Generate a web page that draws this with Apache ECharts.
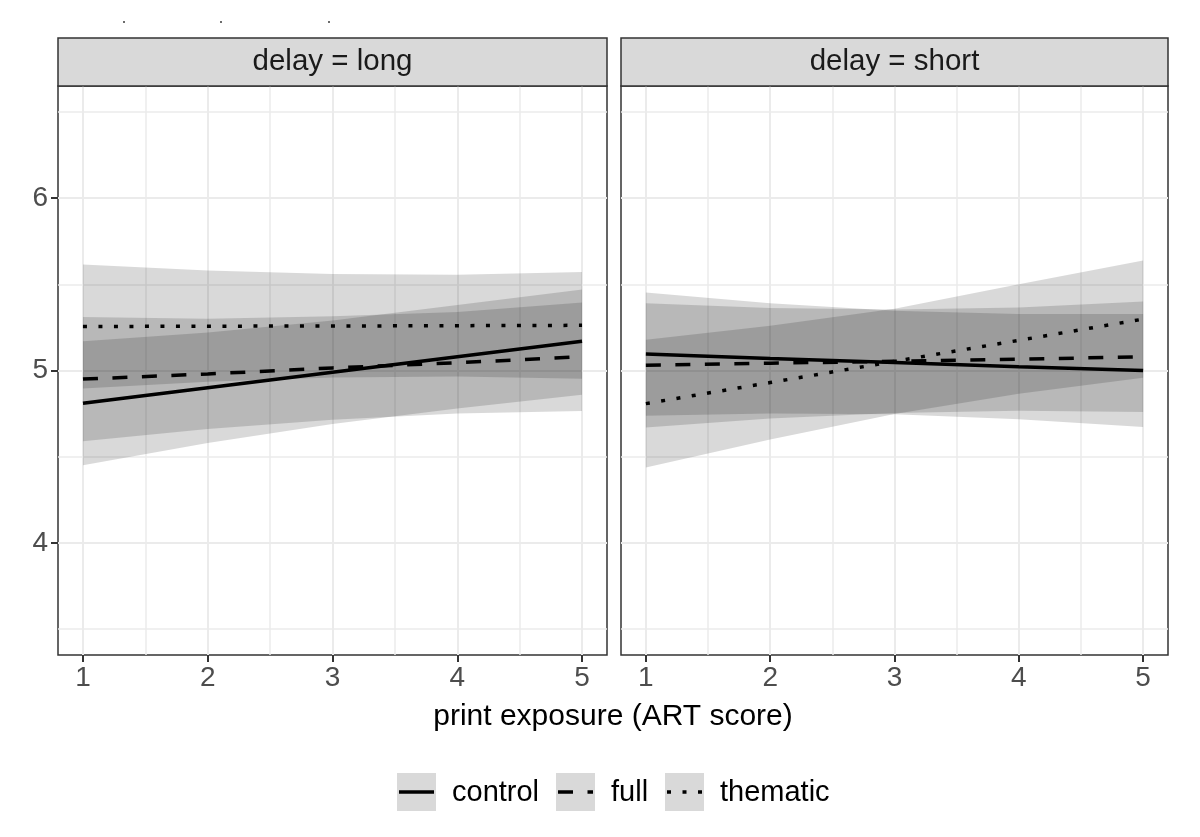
<!DOCTYPE html>
<html>
<head>
<meta charset="utf-8">
<title>print exposure by delay</title>
<script src="https://cdn.jsdelivr.net/npm/echarts@6/dist/echarts.min.js"></script>
<style>
  html, body { margin: 0; padding: 0; background: #fff; }
  #main { width: 1200px; height: 837px; }
</style>
</head>
<body>
<div id="main"></div>
<script>
// x positions (ART score) and axis breaks
var xList = [1, 2, 3, 4, 5];
var xTicks = [1, 2, 3, 4, 5];
var xMinor = [1.5, 2.5, 3.5, 4.5];
var yTicks = [4, 5, 6];
var yMinor = [3.5, 4.5, 5.5, 6.5];
var panels = ['delay = long', 'delay = short'];
var groups = ['control', 'full', 'thematic'];

// delay = long
var longControl    = [4.81, 4.90, 4.99, 5.08, 5.17];
var longControlLo  = [4.45, 4.58, 4.69, 4.78, 4.86];
var longControlHi  = [5.17, 5.22, 5.29, 5.38, 5.47];
var longFull       = [4.95, 4.98, 5.015, 5.045, 5.08];
var longFullLo     = [4.59, 4.66, 4.715, 4.75, 4.765];
var longFullHi     = [5.31, 5.30, 5.315, 5.34, 5.395];
var longThematic   = [5.255, 5.257, 5.258, 5.26, 5.262];
var longThematicLo = [4.895, 4.935, 4.96, 4.965, 4.952];
var longThematicHi = [5.615, 5.58, 5.56, 5.556, 5.571];

// delay = short
var shortControl    = [5.095, 5.07, 5.046, 5.022, 5.0];
var shortControlLo  = [4.738, 4.75, 4.746, 4.717, 4.673];
var shortControlHi  = [5.452, 5.39, 5.346, 5.327, 5.327];
var shortFull       = [5.03, 5.042, 5.054, 5.066, 5.079];
var shortFullLo     = [4.67, 4.722, 4.754, 4.766, 4.76];
var shortFullHi     = [5.39, 5.362, 5.354, 5.366, 5.40];
var shortThematic   = [4.808, 4.93, 5.053, 5.175, 5.298];
var shortThematicLo = [4.438, 4.60, 4.748, 4.865, 4.958];
var shortThematicHi = [5.178, 5.26, 5.358, 5.50, 5.638];

var lineTypes = ['solid', [15, 14.5], [4, 11.5]];
var FONT = '"Liberation Sans", Arial, sans-serif';

var panelData = [
  [[longControl, longControlLo, longControlHi], [longFull, longFullLo, longFullHi], [longThematic, longThematicLo, longThematicHi]],
  [[shortControl, shortControlLo, shortControlHi], [shortFull, shortFullLo, shortFullHi], [shortThematic, shortThematicLo, shortThematicHi]]
];

// panel boxes (px)
var gridBox = [
  { left: 58, top: 86, width: 549, height: 569 },
  { left: 621, top: 86, width: 547, height: 569 }
];

function pairs(ys) {
  return xList.map(function (x, i) { return [x, ys[i]]; });
}

// polygon for a ribbon, upper edge then lower edge backwards
function ribbon(lo, hi) {
  return function (params, api) {
    var pts = [];
    for (var i = 0; i < xList.length; i++) pts.push(api.coord([xList[i], hi[i]]));
    for (var j = xList.length - 1; j >= 0; j--) pts.push(api.coord([xList[j], lo[j]]));
    return {
      type: 'polygon',
      shape: { points: pts },
      style: { fill: 'rgba(0,0,0,0.15)' }
    };
  };
}

var chart = echarts.init(document.getElementById('main'), null, { renderer: 'canvas' });

var series = [];
var xAxes = [];
var yAxes = [];
var grids = [];
var graphics = [];

for (var p = 0; p < 2; p++) {
  grids.push({
    left: gridBox[p].left, top: gridBox[p].top, width: gridBox[p].width, height: gridBox[p].height,
    show: true, backgroundColor: '#fff', borderColor: '#333', borderWidth: 1.5
  });
  xAxes.push({
    gridIndex: p, type: 'value', min: 0.8, max: 5.2,
    axisLine: { show: false },
    splitLine: { show: false },
    axisTick: { show: true, customValues: xTicks, length: 7, lineStyle: { color: '#333', width: 2 } },
    axisLabel: { customValues: xTicks, margin: 9, color: '#4d4d4d', fontSize: 28, fontFamily: FONT }
  });
  yAxes.push({
    gridIndex: p, type: 'value', min: 3.35, max: 6.65,
    axisLine: { show: false },
    splitLine: { show: false },
    axisTick: { show: p === 0, customValues: yTicks, length: 7, lineStyle: { color: '#333', width: 2 } },
    axisLabel: { show: p === 0, customValues: yTicks, margin: 10, color: '#4d4d4d', fontSize: 28, fontFamily: FONT }
  });

  // grid lines (major + minor) under everything
  var gl = [];
  xTicks.forEach(function (v) { gl.push({ xAxis: v, lineStyle: { color: '#ebebeb', width: 2, type: 'solid' } }); });
  xMinor.forEach(function (v) { gl.push({ xAxis: v, lineStyle: { color: '#ebebeb', width: 1.5, type: 'solid' } }); });
  yTicks.forEach(function (v) { gl.push({ yAxis: v, lineStyle: { color: '#ebebeb', width: 2, type: 'solid' } }); });
  yMinor.forEach(function (v) { gl.push({ yAxis: v, lineStyle: { color: '#ebebeb', width: 1.5, type: 'solid' } }); });
  series.push({
    type: 'line', xAxisIndex: p, yAxisIndex: p, z: 1, silent: true,
    data: pairs(panelData[p][0][0]), symbol: 'none', lineStyle: { opacity: 0 },
    markLine: { z: 1, silent: true, symbol: ['none', 'none'], label: { show: false }, animation: false, data: gl }
  });

  // confidence ribbons
  for (var g = 0; g < 3; g++) {
    var lo = panelData[p][g][1], hi = panelData[p][g][2];
    series.push({
      type: 'custom', xAxisIndex: p, yAxisIndex: p, z: 3, silent: true,
      data: [[xList[0], lo[0]]],
      renderItem: ribbon(lo, hi)
    });
  }
  // fitted lines
  for (var g2 = 0; g2 < 3; g2++) {
    series.push({
      name: groups[g2], type: 'line', xAxisIndex: p, yAxisIndex: p, z: 4,
      data: pairs(panelData[p][g2][0]), symbol: 'none',
      lineStyle: { color: '#000', width: 3.5, type: lineTypes[g2], cap: 'butt' }
    });
  }

  // strip
  graphics.push({
    type: 'rect', z: 10,
    shape: { x: gridBox[p].left, y: 38, width: gridBox[p].width, height: 48 },
    style: { fill: '#d9d9d9', stroke: '#333', lineWidth: 1.5 }
  });
  graphics.push({
    type: 'text', z: 11,
    x: gridBox[p].left + gridBox[p].width / 2, y: 62,
    style: { text: panels[p], fill: '#1a1a1a', font: '29.5px ' + FONT, textAlign: 'center', textVerticalAlign: 'middle' }
  });
}

// axis title
graphics.push({
  type: 'text', z: 11, x: 613, y: 717,
  style: { text: 'print exposure (ART score)', fill: '#000', font: '30px ' + FONT, textAlign: 'center', textVerticalAlign: 'middle' }
});

// leftovers of a cropped title at the top
[124, 221, 329].forEach(function (x) {
  graphics.push({
    type: 'text', z: 11, x: x, y: 18,
    style: { text: '.', fill: '#555', font: '18px ' + FONT, textAlign: 'center', textVerticalAlign: 'middle' }
  });
});

// legend
var keyX = [397, 556, 665];
var labelX = [452, 611, 720];
for (var k = 0; k < 3; k++) {
  graphics.push({
    type: 'rect', z: 10,
    shape: { x: keyX[k], y: 773, width: 39, height: 38 },
    style: { fill: '#d9d9d9' }
  });
  graphics.push({
    type: 'line', z: 11,
    shape: { x1: keyX[k] + 2, y1: 792, x2: keyX[k] + 37, y2: 792 },
    style: { stroke: '#000', lineWidth: 3.5, lineDash: lineTypes[k] === 'solid' ? null : lineTypes[k] }
  });
  graphics.push({
    type: 'text', z: 11, x: labelX[k], y: 793,
    style: { text: groups[k], fill: '#000', font: '29px ' + FONT, textAlign: 'left', textVerticalAlign: 'middle' }
  });
}

chart.setOption({
  animation: false,
  backgroundColor: '#fff',
  grid: grids,
  xAxis: xAxes,
  yAxis: yAxes,
  series: series,
  graphic: graphics
});
</script>
</body>
</html>
